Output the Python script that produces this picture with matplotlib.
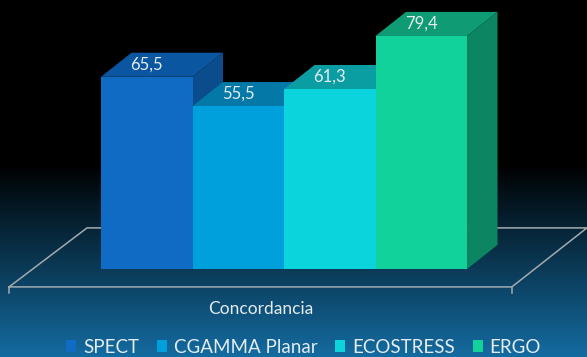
import numpy as np
import matplotlib
matplotlib.use('Agg')
import matplotlib.pyplot as plt
from matplotlib.patches import Polygon, Rectangle
from matplotlib.colors import LinearSegmentedColormap

# series
labels = ['SPECT', 'CGAMMA Planar', 'ECOSTRESS', 'ERGO']
valores = [65.5, 55.5, 61.3, 79.4]
rotulos = ['65,5', '55,5', '61,3', '79,4']
categoria = 'Concordancia'

cor_frente = ['#106bc4', '#00a0dc', '#0bd4dc', '#12d29c']
cor_topo = ['#0b56a0', '#0479a7', '#0a9ea3', '#0f9c74']
cor_lado = ['#0a4c8c', '#036f99', '#08898e', '#0c8562']

plt.rcParams['font.family'] = ['Lato', 'DejaVu Sans']
txtcor = '#e4ecef'

fig = plt.figure(figsize=(5.87, 3.57), dpi=100)
ax = fig.add_axes([0, 0, 1, 1])
xmin, xmax = -1.104, 5.311
ymin, ymax = -29.98, 91.65
ax.set_xlim(xmin, xmax)
ax.set_ylim(ymin, ymax)
ax.axis('off')

# fundo em degrade (preto em cima, azul embaixo)
fundo = LinearSegmentedColormap.from_list(
    'fundo', [(0.0, '#146ba0'), (0.54, '#000000'), (1.0, '#000000')])
grad = np.linspace(0, 1, 256).reshape(-1, 1)
ax.imshow(grad, cmap=fundo, origin='lower', aspect='auto',
          extent=(xmin, xmax, ymin, ymax), zorder=0)

# piso em perspectiva
piso_y0, piso_y1 = -6.1, 14.0
lcor = '#a3abb0'
ax.plot([-1.005, 4.49, 5.31, -0.153, -1.005],
        [piso_y0, piso_y0, piso_y1, piso_y1, piso_y0],
        color=lcor, lw=1.1, zorder=1, solid_joinstyle='miter')
for xc in (-1.005, 4.49):
    ax.plot([xc, xc], [piso_y0, piso_y0 - 2.0], color=lcor, lw=1.1, zorder=1)

# barras 3D
dx, dy = 0.333, 8.2
for i, v in enumerate(valores):
    x0, x1 = i, i + 1
    lado = Polygon([(x1, 0), (x1 + dx, dy), (x1 + dx, v + dy), (x1, v)],
                   closed=True, fc=cor_lado[i], ec='none', zorder=2 + i)
    topo = Polygon([(x0, v), (x1, v), (x1 + dx, v + dy), (x0 + dx, v + dy)],
                   closed=True, fc=cor_topo[i], ec='none', zorder=2 + i)
    ax.add_patch(lado)
    ax.add_patch(topo)
    ax.bar(x0, v, width=1, align='edge', color=cor_frente[i],
           edgecolor='none', zorder=2 + i)
    ax.text(x0 + 0.5, v + dy / 2, rotulos[i], ha='center', va='center',
            color=txtcor, fontsize=12, zorder=10)

ax.text((-1.005 + 4.49) / 2, -13.6, categoria, ha='center', va='center',
        color=txtcor, fontsize=12.5)

handles = [Rectangle((0, 0), 1, 1, fc=c, ec='none') for c in cor_frente]
leg = ax.legend(handles, labels, ncol=4, loc='center',
                bbox_to_anchor=(0.517, 0.028), frameon=False,
                handlelength=0.55, handleheight=0.55, handletextpad=0.35,
                columnspacing=0.95, fontsize=13.5, labelcolor=txtcor)

plt.savefig('out.png', dpi=100)
